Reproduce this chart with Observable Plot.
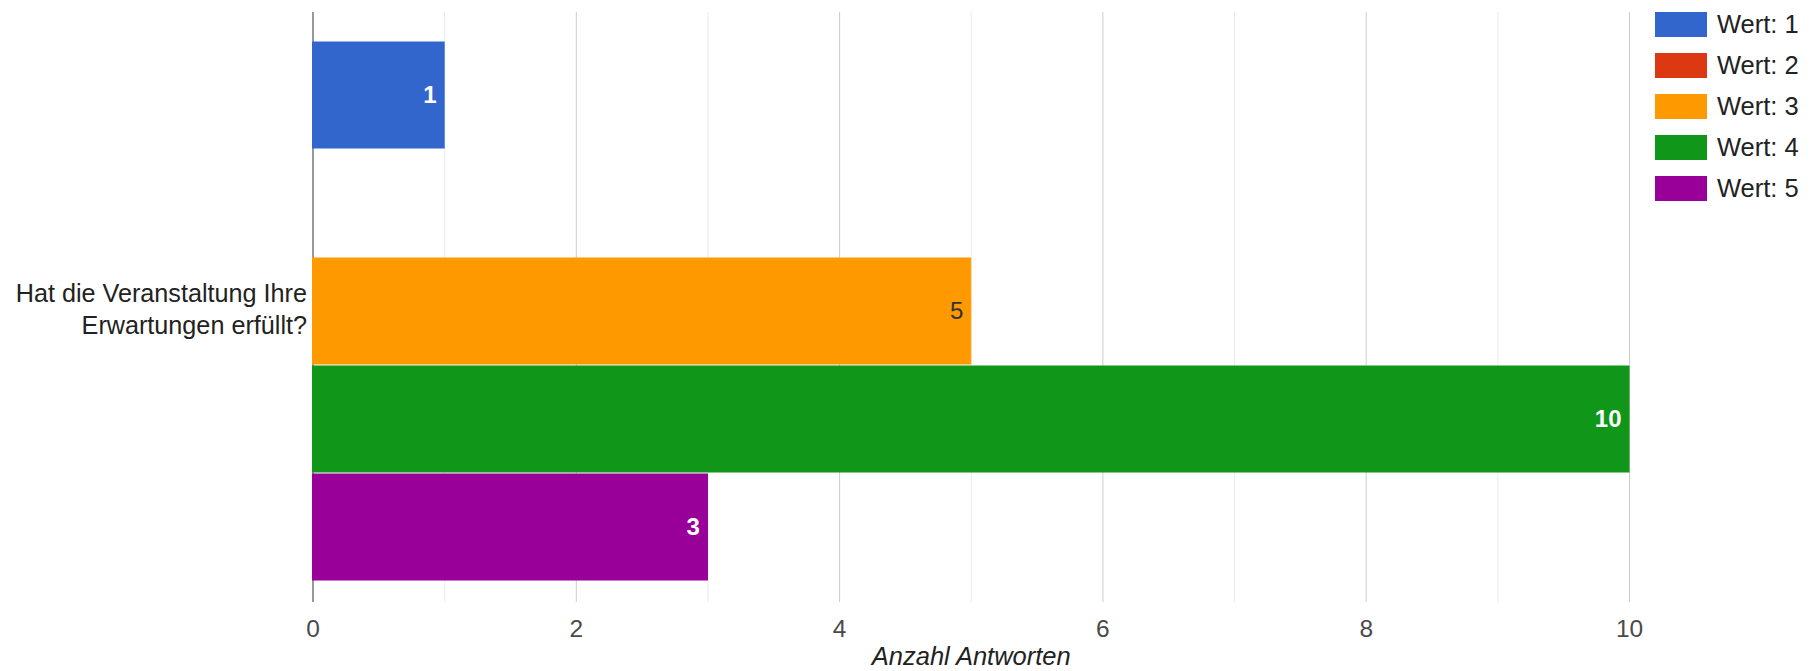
<!DOCTYPE html>
<html><head><meta charset="utf-8">
<script src="https://cdn.jsdelivr.net/npm/d3@7"></script>
<script src="https://cdn.jsdelivr.net/npm/@observablehq/plot@0.6"></script>
<style>
body{margin:0;background:#fff;font-family:Arial,"Liberation Sans",sans-serif}
#wrap{position:relative;width:1815px;height:671px}
#legend{position:absolute;left:1655px;top:12px}
.item{display:flex;align-items:center;height:25px;margin-bottom:16px;font-size:25.5px;color:#222}
.sw{width:52px;height:25px;margin-right:10px}
</style></head><body><div id="wrap"><div id="legend"></div></div>
<script>
const question = ["Hat die Veranstaltung Ihre", "Erwartungen erfüllt?"];
const series = ["Wert: 1", "Wert: 2", "Wert: 3", "Wert: 4", "Wert: 5"];
const counts = [1, 0, 5, 10, 3];
const majorTicks = [0, 2, 4, 6, 8, 10];
const minorTicks = [1, 3, 5, 7, 9];
const axisTitle = "Anzahl Antworten";
const palette = ["#3366cc", "#dc3912", "#ff9900", "#109618", "#990099"];

const rows = series.map((s, i) => ({series: s, count: counts[i]}));
const colorOf = d3.scaleOrdinal(series, palette);
const onDark = d => d3.lab(colorOf(d.series)).l < 62;
const labelled = rows.filter(d => d.count > 0);

const chart = Plot.plot({
  width: 1815, height: 671,
  marginLeft: 312.5, marginRight: 186, marginTop: 12, marginBottom: 69,
  style: {fontSize: "24.5px", fontFamily: "Arial, 'Liberation Sans', sans-serif", color: "#4a4a4a", background: "transparent"},
  x: {domain: [0, 10], ticks: majorTicks, tickSize: 0, tickPadding: 17, label: null},
  y: {domain: series, axis: null, paddingInner: 0.02, paddingOuter: 0.24, align: 0.575},
  color: {domain: series, range: palette},
  marks: [
    Plot.ruleX(minorTicks, {stroke: "#ebebeb"}),
    Plot.ruleX(majorTicks.filter(t => t > 0), {stroke: "#cccccc"}),
    Plot.ruleX([0], {stroke: "#333"}),
    Plot.barX(rows, {x: "count", y: "series", fill: "series", stroke: "series", strokeWidth: 1}),
    Plot.text(labelled.filter(onDark), {x: "count", y: "series", text: d => String(d.count), textAnchor: "end", dx: -8, fill: "#fff", fontWeight: "bold", fontSize: 24}),
    Plot.text(labelled.filter(d => !onDark(d)), {x: "count", y: "series", text: d => String(d.count), textAnchor: "end", dx: -8, fill: "#333", fontSize: 24}),
    Plot.text([question.join("\n")], {frameAnchor: "left", textAnchor: "end", dx: -6, fill: "#222", fontSize: 25.2, lineHeight: 1.3}),
    Plot.text([axisTitle], {frameAnchor: "bottom", dy: 62, fontStyle: "italic", fill: "#222", fontSize: 25.5})
  ]
});
document.getElementById("wrap").prepend(chart);

const legend = document.getElementById("legend");
series.forEach((s, i) => {
  const it = document.createElement("div");
  it.className = "item";
  const sw = document.createElement("div");
  sw.className = "sw";
  sw.style.background = palette[i];
  const tx = document.createElement("span");
  tx.textContent = s;
  it.append(sw, tx);
  legend.append(it);
});
</script></body></html>
